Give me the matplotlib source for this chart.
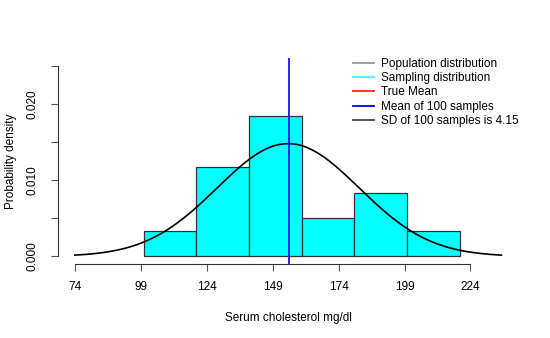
import numpy as np
import matplotlib
matplotlib.use('Agg')
import matplotlib.pyplot as plt
from matplotlib.lines import Line2D

plt.rcParams['font.family'] = ['Liberation Sans', 'DejaVu Sans']

# histogram of the 30 sample values (bins of 20 mg/dl)
bin_edges = [100, 120, 140, 160, 180, 200, 220]
counts = [2, 7, 11, 3, 5, 2]
n_total = 30

# fitted normal curve
fit_mean = 154.8
fit_sd = 27.0
sample_mean = 155.0

x_ticks = [74, 99, 124, 149, 174, 199, 224]
y_ticks = [0.0, 0.005, 0.010, 0.015, 0.020, 0.025]
y_labels = ['0.000', '', '0.010', '', '0.020', '']

legend_labels = ['Population distribution', 'Sampling distribution', 'True Mean',
                 'Mean of 100 samples', 'SD of 100 samples is 4.15']
legend_colors = ['#999999', '#33ffff', '#ff2020', '#0000ff', '#444444']

dens = [c / (n_total * 20) for c in counts]
widths = np.diff(bin_edges)

fig = plt.figure(figsize=(5.5, 3.38), dpi=100)
ax = fig.add_axes([58.3 / 550, 1 - 264 / 338, (519 - 58.3) / 550, (264 - 58) / 338])

ax.bar(bin_edges[:-1], dens, width=widths, align='edge', color='#00ffff',
       edgecolor='#333333', linewidth=0.9, zorder=2)

xs = np.linspace(fit_mean - 3 * fit_sd, fit_mean + 3 * fit_sd, 300)
ys = np.exp(-0.5 * ((xs - fit_mean) / fit_sd) ** 2) / (fit_sd * np.sqrt(2 * np.pi))
ax.plot(xs, ys, color='black', linewidth=1.2, zorder=3)

ax.axvline(sample_mean, color='#0000ff', linewidth=1.2, zorder=4)

lo, hi = 74, 236
ax.set_xlim(lo - 0.04 * (hi - lo), hi + 0.04 * (hi - lo))
ax.set_ylim(-0.001, 0.026)

for s in ['top', 'right']:
    ax.spines[s].set_visible(False)
ax.spines['left'].set_bounds(0, 0.025)
ax.spines['bottom'].set_bounds(74, 224)
for s in ['left', 'bottom']:
    ax.spines[s].set_color('#333333')
    ax.spines[s].set_linewidth(0.8)

ax.set_xticks(x_ticks)
ax.set_xticklabels([str(t) for t in x_ticks])
ax.set_yticks(y_ticks)
ax.set_yticklabels(y_labels, rotation=90, va='center')
ax.tick_params(axis='both', length=5, width=0.8, color='#555555', labelsize=8.5, pad=7)
ax.tick_params(axis='y', pad=9)

ax.set_xlabel('Serum cholesterol mg/dl', fontsize=8.5, labelpad=14)
ax.set_ylabel('Probability density', fontsize=8.5, labelpad=7)

handles = [Line2D([0], [0], color=c, linewidth=1.3) for c in legend_colors]
fig.legend(handles, legend_labels, loc='upper left', bbox_to_anchor=(348 / 550, 1 - 53 / 338),
           frameon=False, fontsize=8.5, handlelength=1.8, handletextpad=0.6,
           labelspacing=0.2, borderaxespad=0)

fig.savefig('out.png', dpi=100)
